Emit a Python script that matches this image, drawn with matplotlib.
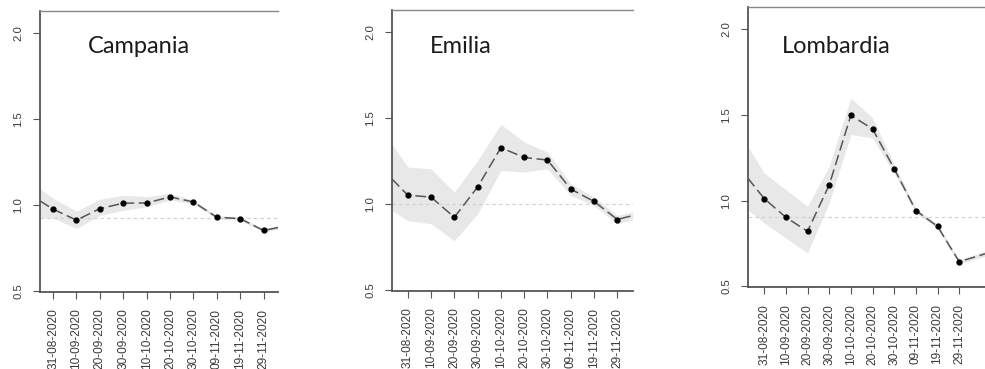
"""
Rt per regione (Campania, Emilia, Lombardia) con intervallo di confidenza
"""

import numpy as np
import matplotlib.pyplot as plt

# date dei punti (giorni dal 31-08-2020) e relative etichette
tick_days = [0, 10, 20, 30, 40, 50, 60, 70, 80, 90]
tick_labels = ['31-08-2020', '10-09-2020', '20-09-2020', '30-09-2020', '10-10-2020',
               '20-10-2020', '30-10-2020', '09-11-2020', '19-11-2020', '29-11-2020']

regions = ['Campania', 'Emilia', 'Lombardia']

# giorni della curva: un valore prima del 31-08, i dieci punti, un valore dopo il 29-11
days_campania = [-5.6, 0, 10, 20, 30, 40, 50, 60, 70, 80, 90, 96.2]
rt_campania = [1.025, 0.977, 0.913, 0.980, 1.012, 1.013, 1.048, 1.019, 0.930, 0.922, 0.853, 0.870]
hi_campania = [1.095, 1.040, 0.965, 1.035, 1.058, 1.050, 1.068, 1.030, 0.940, 0.932, 0.862, 0.880]
lo_campania = [0.925, 0.925, 0.865, 0.940, 0.970, 0.990, 1.030, 1.008, 0.920, 0.912, 0.844, 0.860]
ref_campania = 0.925

days_emilia = [-6.9, 0, 10, 20, 30, 40, 50, 60, 70, 80, 90, 96.6]
rt_emilia = [1.148, 1.053, 1.041, 0.924, 1.100, 1.329, 1.272, 1.257, 1.088, 1.016, 0.911, 0.934]
hi_emilia = [1.352, 1.216, 1.206, 1.070, 1.255, 1.465, 1.362, 1.303, 1.119, 1.041, 0.935, 0.955]
lo_emilia = [0.963, 0.905, 0.886, 0.788, 0.944, 1.197, 1.187, 1.206, 1.051, 0.992, 0.885, 0.910]
ref_emilia = 1.0

days_lombardia = [-7.6, 0, 10, 20, 30, 40, 50, 60, 70, 80, 90, 101.9]
rt_lombardia = [1.132, 1.012, 0.903, 0.821, 1.091, 1.497, 1.418, 1.186, 0.942, 0.850, 0.644, 0.690]
hi_lombardia = [1.316, 1.161, 1.064, 0.967, 1.200, 1.598, 1.482, 1.210, 0.956, 0.862, 0.656, 0.705]
lo_lombardia = [0.948, 0.870, 0.782, 0.695, 0.987, 1.385, 1.365, 1.160, 0.928, 0.838, 0.632, 0.675]
ref_lombardia = 0.905

series = [
    (days_campania, rt_campania, hi_campania, lo_campania, ref_campania),
    (days_emilia, rt_emilia, hi_emilia, lo_emilia, ref_emilia),
    (days_lombardia, rt_lombardia, hi_lombardia, lo_lombardia, ref_lombardia),
]

# posizione dei pannelli in pixel (sinistra, destra, alto, basso)
W, H = 985, 369
boxes = [(40, 278, 11, 292), (391.7, 632.7, 10, 291), (747.7, 985, 6.7, 287.3)]
title_x = [88, 430, 782]

fig = plt.figure(figsize=(W / 100, H / 100), dpi=100)
tick_col = '#3a3a3a'

for i, (days, rt, hi, lo, ref) in enumerate(series):
    l, r, t, b = boxes[i]
    ax = fig.add_axes([l / W, 1 - b / H, (r - l) / W, (b - t) / H])

    ax.fill_between(days, lo, hi, color='#e8e8e8', lw=0, zorder=1)
    ax.axhline(ref, color='#cfcfcf', lw=0.8, ls=(0, (3, 3)), zorder=2)
    ax.plot(days, rt, color='#555555', lw=1.1, ls=(0, (7, 3)), zorder=3)
    ax.plot(days[1:-1], rt[1:-1], 'o', color='black', ms=3.5, zorder=4)

    ax.set_xlim(days[0], days[-1])
    ax.set_ylim(0.495, 2.13)

    ax.set_xticks(tick_days)
    ax.set_xticklabels(tick_labels, rotation=90, family='Liberation Sans',
                       fontsize=8.6, color=tick_col)
    ax.set_yticks([0.5, 1.0, 1.5, 2.0])
    ax.set_yticklabels(['0.5', '1.0', '1.5', '2.0'], rotation=90, va='center',
                       family='Liberation Sans', fontsize=8.2, color=tick_col)
    ax.tick_params(axis='x', length=5, pad=7, color='#555555')
    ax.tick_params(axis='y', length=5, pad=7, color='#555555')

    ax.spines['right'].set_visible(False)
    ax.spines['left'].set_color('#555555')
    ax.spines['left'].set_linewidth(1.3)
    ax.spines['bottom'].set_color('#555555')
    ax.spines['bottom'].set_linewidth(1.3)
    ax.spines['top'].set_color('#888888')
    ax.spines['top'].set_linewidth(1.0)

    fig.text(title_x[i] / W, 1 - 53 / H, regions[i], family='Lato',
             fontsize=17, color='#1a1a1a', va='baseline', ha='left')

fig.savefig('out.png', dpi=100)
plt.close(fig)
